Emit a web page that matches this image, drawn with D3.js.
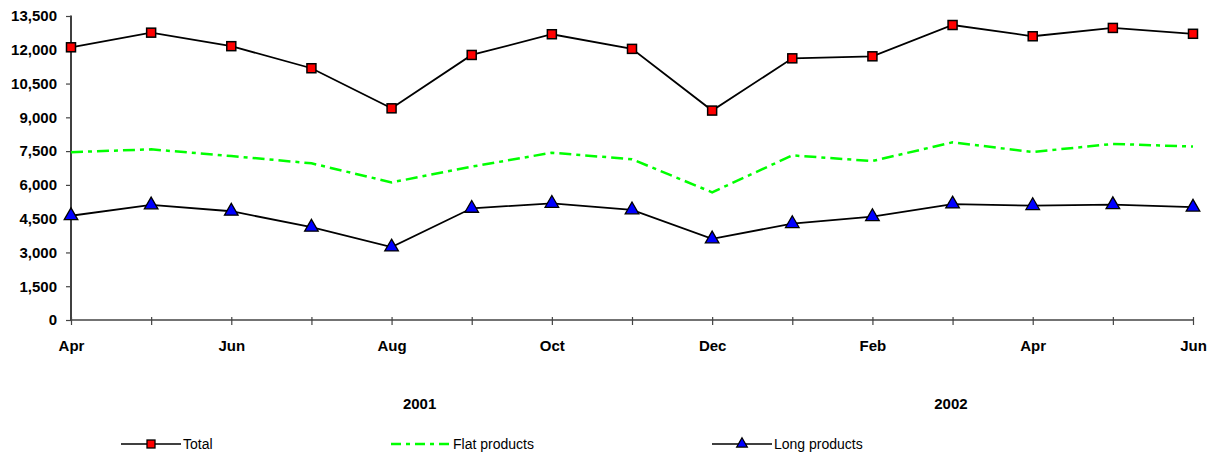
<!DOCTYPE html>
<html><head><meta charset="utf-8">
<script src="https://cdn.jsdelivr.net/npm/d3@7"></script>
<style>
html,body{margin:0;padding:0;background:#fff;}
svg{display:block;font-family:Arial,"Liberation Sans",sans-serif;}
</style></head>
<body>
<svg id="chart" width="1216" height="457"></svg>
<script>
const months = ["Apr","May","Jun","Jul","Aug","Sep","Oct","Nov","Dec","Jan","Feb","Mar","Apr","May","Jun"];
const totalValues = [12110,12760,12160,11180,9400,11770,12690,12040,9300,11620,11710,13100,12600,12970,12710];
const flatValues  = [7450,7580,7280,6960,6110,6810,7430,7140,5670,7310,7060,7890,7460,7820,7700];
const longValues  = [4630,5110,4830,4120,3240,4960,5180,4890,3600,4280,4590,5150,5080,5120,5010];
const yTicks = [0,1500,3000,4500,6000,7500,9000,10500,12000,13500];
const years = ["2001","2002"];
const seriesNames = ["Total","Flat products","Long products"];

const svg = d3.select("#chart");
const x = d3.scaleLinear().domain([0, months.length-1]).range([71, 1193]);
const y = d3.scaleLinear().domain([0, 13500]).range([320, 16]);

// Y axis
const yAxis = svg.append("g").attr("transform","translate(71,0)")
  .call(d3.axisLeft(y).tickValues(yTicks).tickSize(5).tickPadding(9).tickFormat(d3.format(",")));
yAxis.select(".domain").attr("stroke","#000").attr("stroke-width",1.5).attr("d","M0,15.5V320");
yAxis.selectAll(".tick line").attr("stroke","#444").attr("stroke-width",1.2);
yAxis.selectAll("text").attr("font-size",15).attr("font-weight","bold").attr("fill","#000")
  .attr("font-family","Arial,'Liberation Sans',sans-serif");

// X axis
const xAxis = svg.append("g").attr("transform","translate(0,320)")
  .call(d3.axisBottom(x).tickValues(d3.range(months.length)).tickSize(5).tickPadding(15)
    .tickFormat(i => i % 2 === 0 ? months[i] : ""));
xAxis.select(".domain").attr("stroke","#444").attr("stroke-width",1.5).attr("d","M71,0H1193");
xAxis.selectAll(".tick line").attr("stroke","#444").attr("stroke-width",1.2).attr("y1",-3);
xAxis.selectAll("text").attr("font-size",15).attr("font-weight","bold").attr("fill","#000")
  .attr("font-family","Arial,'Liberation Sans',sans-serif");

// Year labels (centred under their month groups)
const yearCenters = [4.35, 10.98];
svg.selectAll(".year").data(years).enter().append("text")
  .attr("x", (d,i) => x(yearCenters[i])).attr("y", 409)
  .attr("text-anchor","middle").attr("font-size",15).attr("font-weight","bold").text(d => d);

const line = d3.line().x((d,i)=>x(i)).y(d=>y(d));

// Flat products
svg.append("path").datum(flatValues).attr("d",line).attr("fill","none")
  .attr("stroke","#00FF00").attr("stroke-width",2.5).attr("stroke-dasharray","12,5,4,5");

// Long products
svg.append("path").datum(longValues).attr("d",line).attr("fill","none")
  .attr("stroke","#000").attr("stroke-width",1.8);
// Total
svg.append("path").datum(totalValues).attr("d",line).attr("fill","none")
  .attr("stroke","#000").attr("stroke-width",1.8);

const tri = d3.symbol().type(d3.symbolTriangle).size(80);
svg.selectAll(".tri").data(longValues).enter().append("path")
  .attr("d", tri).attr("transform",(d,i)=>`translate(${x(i)},${y(d)})`)
  .attr("fill","#0000FF").attr("stroke","#000").attr("stroke-width",1.3);

svg.selectAll(".sq").data(totalValues).enter().append("rect")
  .attr("x",(d,i)=>x(i)-4.5).attr("y",d=>y(d)-4.5).attr("width",9).attr("height",9)
  .attr("fill","#FF0000").attr("stroke","#000").attr("stroke-width",1.5);

// Legend
const leg = [
  {name: seriesNames[0], x0:121, type:"sq"},
  {name: seriesNames[1], x0:391, type:"dash"},
  {name: seriesNames[2], x0:712, type:"tri"}
];
const ly = 444;
leg.forEach(l => {
  const g = svg.append("g");
  if (l.type === "dash") {
    g.append("line").attr("x1",l.x0).attr("x2",l.x0+59).attr("y1",ly).attr("y2",ly)
      .attr("stroke","#00FF00").attr("stroke-width",2.5).attr("stroke-dasharray","10,5,4,5");
  } else {
    g.append("line").attr("x1",l.x0).attr("x2",l.x0+60).attr("y1",ly).attr("y2",ly)
      .attr("stroke","#000").attr("stroke-width",1.5);
    if (l.type === "sq") {
      g.append("rect").attr("x",l.x0+30-4).attr("y",ly-4).attr("width",8).attr("height",8)
        .attr("fill","#FF0000").attr("stroke","#000").attr("stroke-width",1.3);
    } else {
      g.append("path").attr("d",d3.symbol().type(d3.symbolTriangle).size(50))
        .attr("transform",`translate(${l.x0+30},${ly})`)
        .attr("fill","#0000FF").attr("stroke","#000").attr("stroke-width",1.2);
    }
  }
  g.append("text").attr("x", l.x0+62).attr("y", ly).attr("dy","0.35em")
    .attr("font-size",14).attr("fill","#000").text(l.name);
});
</script>
</body></html>
